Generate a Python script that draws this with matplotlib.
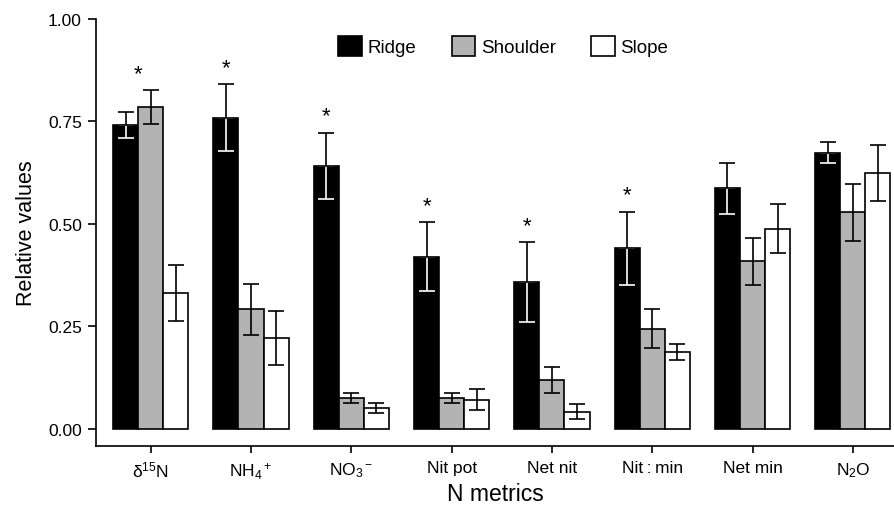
import matplotlib

matplotlib.use("Agg")
import matplotlib.pyplot as plt
import numpy as np

plt.rcParams["font.family"] = ["Liberation Sans", "DejaVu Sans"]
plt.rcParams["mathtext.fontset"] = "custom"
plt.rcParams["mathtext.rm"] = "Liberation Sans"
plt.rcParams["mathtext.it"] = "Liberation Sans"

# ── data ──────────────────────────────────────────────────────────────
metrics = ["δ$^{15}$N", "NH$_4$$^+$", "NO$_3$$^-$", "Nit pot", "Net nit",
           "Nit\u2009:\u2009min", "Net min", "N$_2$O"]
positions = ["Ridge", "Shoulder", "Slope"]

ridge = [0.741, 0.759, 0.642, 0.420, 0.358, 0.441, 0.587, 0.674]
ridge_err = [0.032, 0.082, 0.081, 0.084, 0.097, 0.089, 0.062, 0.025]
shoulder = [0.785, 0.292, 0.075, 0.076, 0.120, 0.244, 0.409, 0.528]
shoulder_err = [0.041, 0.062, 0.012, 0.012, 0.032, 0.048, 0.057, 0.070]
slope = [0.331, 0.221, 0.050, 0.071, 0.042, 0.187, 0.488, 0.624]
slope_err = [0.069, 0.066, 0.012, 0.025, 0.018, 0.020, 0.060, 0.068]

# which groups get an asterisk; "both" = ridge and shoulder together
significant = ["both", "ridge", "ridge", "ridge", "ridge", "ridge", None, None]

colors = ["#000000", "#b3b3b3", "#ffffff"]

# ── chart ─────────────────────────────────────────────────────────────
fig = plt.figure(figsize=(8.95, 5.10), dpi=100)
ax = fig.add_axes([0.107, 0.1235, 0.893, 0.8373])

x = np.arange(len(metrics))
w = 0.25
series = [(ridge, ridge_err), (shoulder, shoulder_err), (slope, slope_err)]
handles = []
for i, ((vals, errs), c, name) in enumerate(zip(series, colors, positions)):
    xs = x + (i - 1) * w
    b = ax.bar(xs, vals, width=w, color=c, edgecolor="black", linewidth=1.2,
               label=name, zorder=2)
    handles.append(b)
    if i == 0:
        # inside the black bar the error bar is drawn in white
        ax.errorbar(xs, vals, yerr=[errs, np.zeros(len(errs))], fmt="none",
                    ecolor="white", elinewidth=1.2, capsize=5.5, capthick=1.2,
                    zorder=3)
        ax.errorbar(xs, vals, yerr=[np.zeros(len(errs)), errs], fmt="none",
                    ecolor="black", elinewidth=1.2, capsize=5.5, capthick=1.2,
                    zorder=4)
    else:
        ax.errorbar(xs, vals, yerr=errs, fmt="none", ecolor="black",
                    elinewidth=1.2, capsize=5.5, capthick=1.2, zorder=3)

# asterisks
for k, s in enumerate(significant):
    if s == "ridge":
        ax.annotate("*", xy=(x[k] - w, ridge[k] + ridge_err[k]),
                    xytext=(0, 12), textcoords="offset points",
                    ha="center", va="center", fontsize=16)
    elif s == "both":
        top = max(ridge[k] + ridge_err[k], shoulder[k] + shoulder_err[k])
        ax.annotate("*", xy=(x[k] - w / 2, top), xytext=(0, 12),
                    textcoords="offset points", ha="center", va="center",
                    fontsize=16)

ax.set_xlim(-0.548, 7.42)
ax.set_ylim(-0.042, 1.0)
ax.set_yticks([0, 0.25, 0.5, 0.75, 1.0])
ax.set_yticklabels(["0.00", "0.25", "0.50", "0.75", "1.00"])
ax.set_xticks(x)
ax.set_xticklabels(metrics)
ax.tick_params(axis="both", direction="out", width=1.2,
               color="black", labelcolor="black")
ax.tick_params(axis="y", length=6, pad=4, labelsize=12.5)
ax.tick_params(axis="x", length=5, pad=5, labelsize=12.5)

for side in ["top", "right"]:
    ax.spines[side].set_visible(False)
for side in ["left", "bottom"]:
    ax.spines[side].set_linewidth(1.2)

ax.set_xlabel("N metrics", fontsize=16.5, labelpad=1)
ax.set_ylabel("Relative values", fontsize=15.5, labelpad=8)

ax.legend(handles=handles, ncol=3, loc="upper center",
          bbox_to_anchor=(0.51, 1.0), frameon=False, fontsize=13.5,
          handlelength=1.25, handleheight=1.25, handletextpad=0.3,
          columnspacing=1.9)

fig.savefig("out.png", dpi=100)
